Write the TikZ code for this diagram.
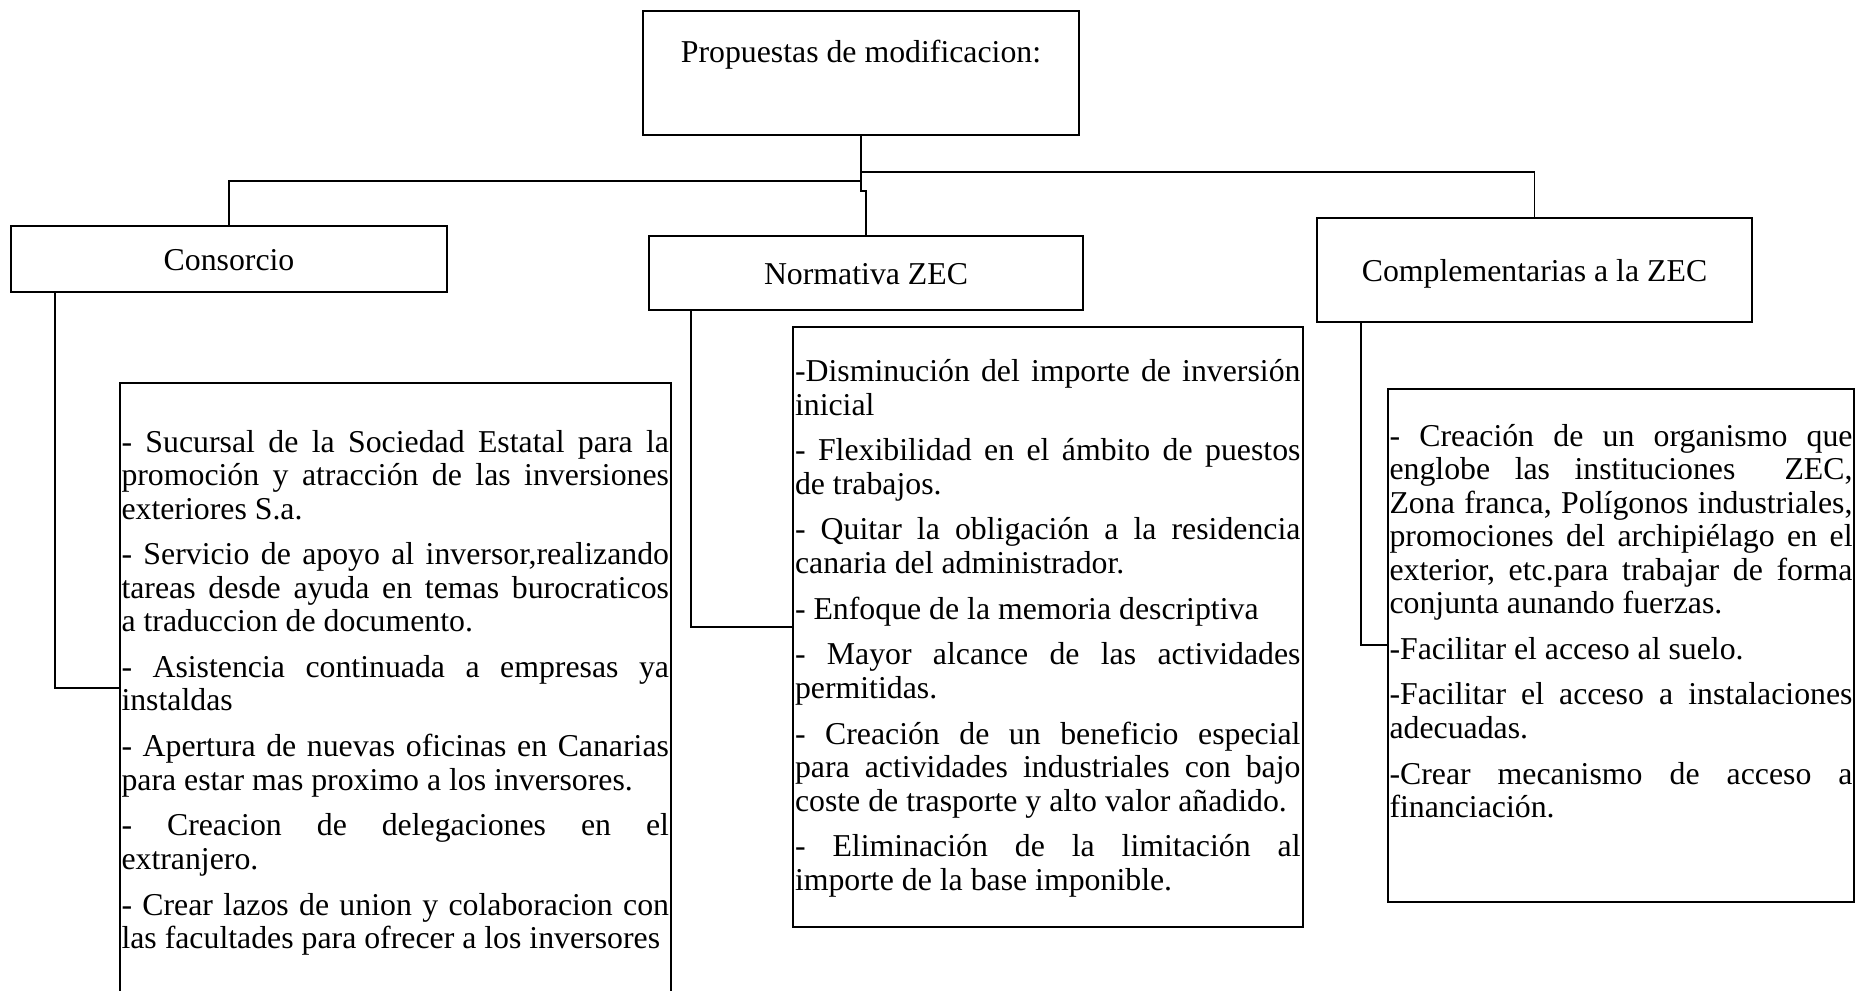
\documentclass[tikz,border=0pt]{standalone}
\usepackage{fontspec}
\setmainfont{Liberation Serif}[Ligatures=NoCommon]
\newcommand{\txtfont}{\fontsize{15.9}{16.75}\selectfont\frenchspacing}
\newcommand{\bodystart}{\setlength{\parskip}{6.1pt}\frenchspacing}
\newcommand{\jl}[1]{\makebox[\linewidth][s]{#1}\newline}
\tikzset{
  hdr/.style={draw, line width=0.9pt, inner sep=0pt, outer sep=0pt, align=center, font=\txtfont, anchor=north west},
  cbox/.style={draw, line width=0.9pt, inner sep=0pt, outer sep=0pt, anchor=north west},
  ctext/.style={inner sep=0pt, outer sep=0pt, anchor=base west, align=justify, font=\txtfont},
  conn/.style={draw, line width=0.9pt},
}
\begin{document}
\begin{tikzpicture}[x=0.5pt,y=-0.5pt]
\fill[white] (0,0) rectangle (1856,990);
\useasboundingbox (0,0) rectangle (1856,990);
\begin{scope}
\clip (0,0) rectangle (1856,990);
% header boxes
\node[hdr, minimum width=218pt, text height=25.75pt, text depth=36.25pt] (root) at (643,11) {Propuestas de modificacion:};
\node[hdr, minimum width=218pt, text height=22.25pt, text depth=10.75pt] (cons) at (11,226) {Consorcio};
\node[hdr, minimum width=217pt, text height=24pt, text depth=13pt] (norm) at (649,236) {Normativa ZEC};
\node[hdr, minimum width=217.5pt, text height=31.75pt, text depth=20.25pt] (comp) at (1317,218) {Complementarias a la ZEC};
% content boxes
\node[cbox, minimum width=275.5pt, minimum height=308.5pt] (consC) at (120,383) {};
\node[cbox, minimum width=255pt, minimum height=300pt] (normC) at (793,327) {};
\node[cbox, minimum width=233pt, minimum height=256.5pt] (compC) at (1388,389) {};
% content texts
\node[ctext, text width=273.75pt] (consT) at (121.5,452) {\bodystart
\jl{- Sucursal de la Sociedad Estatal para la}\jl{promoción y atracción de las inversiones}exteriores S.a.\par
\jl{- Servicio de apoyo al inversor,realizando}\jl{tareas desde ayuda en temas burocraticos}a traduccion de documento.\par
\jl{- Asistencia continuada a empresas ya}instaldas\par
\jl{- Apertura de nuevas oficinas en Canarias}para estar mas proximo a los inversores.\par
\jl{- Creacion de delegaciones en el}extranjero.\par
\jl{- Crear lazos de union y colaboracion con}las facultades para ofrecer a los inversores};
\node[ctext, text width=252.75pt] (normT) at (795,381.5) {\bodystart
\jl{-Disminución del importe de inversión}inicial\par
\jl{- Flexibilidad en el ámbito de puestos}de trabajos.\par
\jl{- Quitar la obligación a la residencia}canaria del administrador.\par
- Enfoque de la memoria descriptiva\par
\jl{- Mayor alcance de las actividades}permitidas.\par
\jl{- Creación de un beneficio especial}\jl{para actividades industriales con bajo}coste de trasporte y alto valor añadido.\par
\jl{- Eliminación de la limitación al}importe de la base imponible.};
\node[ctext, text width=231.5pt] (compT) at (1389.5,446) {\bodystart
\jl{- Creación de un organismo que}\jl{englobe las instituciones\ \ ZEC,}\jl{Zona franca, Polígonos industriales,}\jl{promociones del archipiélago en el}\jl{exterior, etc.para trabajar de forma}conjunta aunando fuerzas.\par
-Facilitar el acceso al suelo.\par
\jl{-Facilitar el acceso a instalaciones}adecuadas.\par
\jl{-Crear mecanismo de acceso a}financiación.};
% connectors
\draw[conn] (root.south) -- ++(0,-28pt) -| (norm.north);
\draw[conn] (root.south) -- ++(0,-23pt) -| (cons.north);
\draw[conn] (root.south) -- ++(0,-18.5pt) -| (comp.north);
\draw[conn] ([xshift=22pt]cons.south west) |- ([yshift=-152.5pt]consC.north west);
\draw[conn] ([xshift=21pt]norm.south west) |- ([yshift=-150pt]normC.north west);
\draw[conn] ([xshift=22pt]comp.south west) |- ([yshift=-128pt]compC.north west);
\end{scope}
\end{tikzpicture}
\end{document}
